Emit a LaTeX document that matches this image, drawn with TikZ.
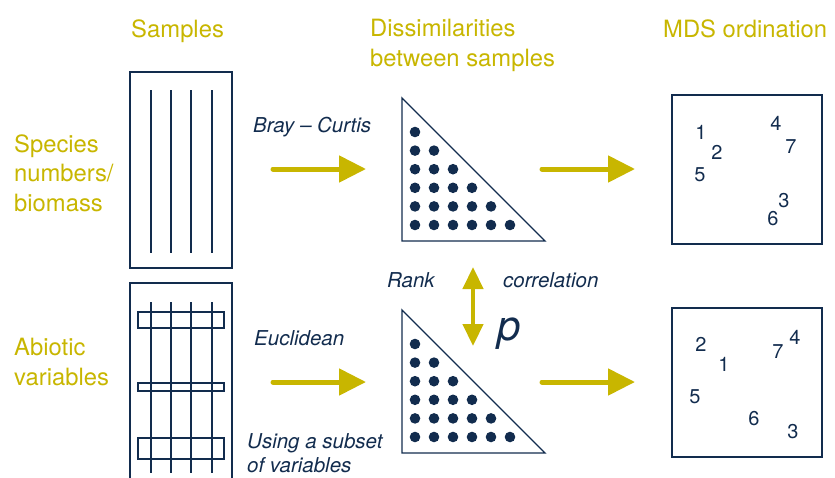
\documentclass[tikz,border=0pt]{standalone}
\usepackage{fontspec}
\setmainfont{TeX Gyre Heros}
\usetikzlibrary{arrows.meta}
\definecolor{mdsyellow}{RGB}{200,182,0}
\definecolor{mdsblue}{RGB}{18,44,78}
\tikzset{
  head/.style={anchor=base west,inner sep=0,text=mdsyellow,font=\fontsize{23.8}{29.5}\selectfont,align=left},
  lab/.style={anchor=base west,inner sep=0,text=mdsblue,font=\fontsize{20.5}{24}\selectfont\itshape,align=left},
  num/.style={inner sep=0,text=mdsblue,font=\fontsize{20}{24}\selectfont},
  frame/.style={draw=mdsblue,line width=1.3pt,inner sep=0},
  flow/.style={draw=mdsyellow,line width=5pt,line cap=round,-{Triangle[length=27pt,width=26pt]}},
}
\begin{document}
\begin{tikzpicture}[x=1pt,y=-1pt]
\useasboundingbox (0,0) rectangle (835,477);
\node[head] (hsamp) at (131,37) {Samples};
\node[head] (hdiss) at (370,66) {Dissimilarities\\between samples};
\node[head] (hmds) at (663,37) {MDS ordination};
\node[head] (lspec) at (14,211) {Species\\numbers/\\biomass};
\node[head] (labio) at (14,385) {Abiotic\\variables};
\node[frame,minimum width=102pt,minimum height=196pt] (spbox) at (181,170) {};
\node[frame,minimum width=102pt,minimum height=207pt] (abbox) at (181,386.5) {};
\foreach \x in {151,171,191,212} {
  \draw[mdsblue,line width=1.3pt] (\x,90) -- (\x,253);
  \draw[mdsblue,line width=1.3pt] (\x,302) -- (\x,473);
}
\foreach \y/\h in {312/16,383/8,438/21}
  \draw[mdsblue,line width=1.3pt] (138,\y) rectangle ++(86,\h);
\draw[mdsblue,line width=1.3pt] (402,98) -- (402,241) -- (545,241) -- cycle;
\draw[mdsblue,line width=1.3pt] (402,310) -- (402,453) -- (545,453) -- cycle;
\foreach \r in {0,...,5}
  \foreach \c in {0,...,\r} {
    \fill[mdsblue] (415+19*\c,132+18.6*\r) circle (5.3);
    \fill[mdsblue] (415+19*\c,344+18.6*\r) circle (5.3);
  }
\node[lab] (bray) at (253,132) {Bray -- Curtis};
\node[lab] (eucl) at (254,345) {Euclidean};
\node[lab] (subs) at (247,472) {Using a subset\\of variables};
\node[lab] (rank) at (387,287) {Rank};
\node[lab] (corr) at (503,287) {correlation};
\node[anchor=base west,inner sep=0,text=mdsblue,font=\fontsize{42}{42}\selectfont\itshape] (rho) at (497,340) {p};
\coordinate (t1) at (273,169); \coordinate (t2) at (366,169);
\coordinate (t3) at (542,169); \coordinate (t4) at (635,169);
\coordinate (b1) at (273,382); \coordinate (b2) at (366,382);
\coordinate (b3) at (542,382); \coordinate (b4) at (635,382);
\draw[flow] (t1) -- (t2);
\draw[flow] (t3) -- (t4);
\draw[flow] (b1) -- (b2);
\draw[flow] (b3) -- (b4);
\coordinate (c1) at (473,267); \coordinate (c2) at (473,346);
\draw[draw=mdsyellow,line width=4.5pt,{Triangle[length=22pt,width=20pt]}-{Triangle[length=22pt,width=20pt]}] (c1) -- (c2);
\node[frame,minimum width=150pt,minimum height=149pt] (mdstop) at (747,169.5) {};
\node[frame,minimum width=150pt,minimum height=149pt] (mdsbot) at (747,382.5) {};
\node[num] (m1) at (701,132) {1};
\node[num] (m2) at (717,152) {2};
\node[num] (m5) at (700,174.5) {5};
\node[num] (m4) at (776,123) {4};
\node[num] (m7) at (791,147) {7};
\node[num] (m3) at (784,200.5) {3};
\node[num] (m6) at (773,219) {6};
\node[num] (e2) at (701,344) {2};
\node[num] (e1) at (724,364) {1};
\node[num] (e5) at (695,397) {5};
\node[num] (e6) at (754,419) {6};
\node[num] (e3) at (793,432) {3};
\node[num] (e7) at (778,352) {7};
\node[num] (e4) at (795,337) {4};
\end{tikzpicture}
\end{document}
